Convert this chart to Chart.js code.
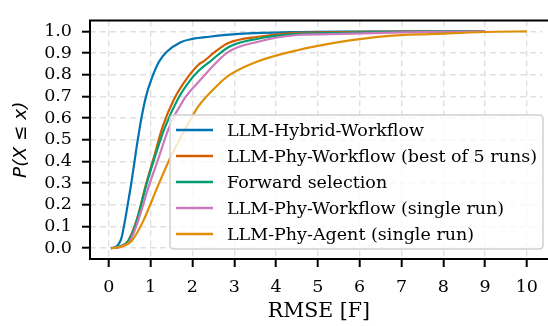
<!DOCTYPE html>
<html>
<head>
<meta charset="utf-8">
<script src="https://cdn.jsdelivr.net/npm/chart.js@4/dist/chart.umd.min.js"></script>
<style>
html,body{margin:0;padding:0;background:#fff;}
#wrap{width:548px;height:326px;position:relative;}
</style>
</head>
<body>
<div id="wrap"><canvas id="c" width="548" height="326"></canvas></div>
<script>
// ---- data ----
const seriesLabels = [
  "LLM-Hybrid-Workflow",
  "LLM-Phy-Workflow (best of 5 runs)",
  "Forward selection",
  "LLM-Phy-Workflow (single run)",
  "LLM-Phy-Agent (single run)"
];
const hybridX = [0.05,0.15,0.22,0.30,0.38,0.46,0.53,0.60,0.66,0.71,0.78,0.89,1.02,1.2,1.38,1.72,2.0,2.4,3.1,4.5,6.0,7.5,9.0];
const hybridP = [0,0.004,0.015,0.045,0.12,0.21,0.29,0.38,0.46,0.52,0.60,0.70,0.78,0.86,0.905,0.95,0.965,0.975,0.988,0.997,0.999,1.0,1.0];
const bestX = [0.05,0.2,0.3,0.46,0.65,0.89,1.08,1.28,1.56,1.84,2.15,2.27,2.54,2.86,3.57,4.51,5.57,7.0,9.0];
const bestP = [0,0.003,0.01,0.034,0.12,0.294,0.42,0.556,0.687,0.775,0.847,0.862,0.905,0.946,0.975,0.993,0.996,0.999,1.0];
const forwardX = [0.05,0.2,0.3,0.47,0.66,0.90,1.1,1.34,1.65,1.95,2.15,2.43,2.86,3.57,4.51,5.57,7.0,9.0];
const forwardP = [0,0.003,0.01,0.034,0.12,0.294,0.42,0.556,0.687,0.775,0.818,0.862,0.927,0.966,0.988,0.993,0.998,1.0];
const singleX = [0.05,0.2,0.32,0.5,0.69,0.97,1.18,1.44,1.80,2.15,2.86,3.57,4.51,5.57,7.0,8.0,9.0];
const singleP = [0,0.003,0.01,0.03,0.12,0.294,0.41,0.556,0.687,0.767,0.905,0.952,0.983,0.988,0.995,0.998,1.0];
const agentX = [0.05,0.2,0.35,0.55,0.81,1.19,1.5,1.85,2.15,2.62,2.9,3.57,4.51,5.5,6.64,7.82,9.0,10.0];
const agentP = [0,0.003,0.01,0.034,0.12,0.294,0.43,0.556,0.656,0.755,0.80,0.862,0.913,0.95,0.978,0.988,0.997,1.0];
const xTicks = [0,1,2,3,4,5,6,7,8,9,10];
const yTicks = [0.0,0.1,0.2,0.3,0.4,0.5,0.6,0.7,0.8,0.9,1.0];
const xTitle = "RMSE [F]";
const yTitle = "P(X ≤ x)";

// ---- styling ----
const colors = ["#0173b2","#d55e00","#029e73","#cc78bc","#de8f05"];
const seriesX = [hybridX, bestX, forwardX, singleX, agentX];
const seriesP = [hybridP, bestP, forwardP, singleP, agentP];
const SERIF = "'DejaVu Serif', serif";
const X_MIN = -0.45, X_FULL_MAX = 10.5;

const datasets = seriesLabels.map((lab, i) => ({
  label: lab,
  data: seriesX[i].map((x, j) => ({x: x, y: seriesP[i][j]})),
  borderColor: colors[i],
  backgroundColor: colors[i],
  borderWidth: 2.2,
  pointRadius: 0,
  fill: false,
  cubicInterpolationMode: 'monotone',
  order: 5 - i
}));

const frame = {
  id: 'frame',
  afterDraw(chart) {
    const {ctx, chartArea} = chart;
    ctx.save();
    ctx.strokeStyle = '#000';
    ctx.lineWidth = 2;
    ctx.setLineDash([]);
    ctx.beginPath();
    ctx.moveTo(chartArea.left, chartArea.top);
    ctx.lineTo(chart.width, chartArea.top);
    ctx.moveTo(chartArea.left, chartArea.top - 1);
    ctx.lineTo(chartArea.left, chartArea.bottom + 1);
    ctx.moveTo(chartArea.left - 1, chartArea.bottom);
    ctx.lineTo(chart.width, chartArea.bottom);
    ctx.stroke();
    // axis titles
    ctx.fillStyle = '#000';
    ctx.textAlign = 'center';
    ctx.textBaseline = 'middle';
    const xs = chart.scales.x;
    ctx.font = "20.5px " + SERIF;
    ctx.fillText(xTitle, xs.getPixelForValue((X_MIN + X_FULL_MAX) / 2), 312);
    ctx.translate(21, (chartArea.top + chartArea.bottom) / 2);
    ctx.rotate(-Math.PI / 2);
    ctx.font = "italic 18.5px 'DejaVu Sans', sans-serif";
    ctx.fillText(yTitle, 0, 0);
    ctx.restore();
  }
};

const boxLegend = {
  id: 'boxLegend',
  afterDatasetsDraw(chart) {
    const ctx = chart.ctx;
    const x0 = 170, y0 = 115, w = 373, h = 134, r = 4;
    ctx.save();
    ctx.setLineDash([]);
    ctx.beginPath();
    ctx.moveTo(x0 + r, y0);
    ctx.lineTo(x0 + w - r, y0);
    ctx.quadraticCurveTo(x0 + w, y0, x0 + w, y0 + r);
    ctx.lineTo(x0 + w, y0 + h - r);
    ctx.quadraticCurveTo(x0 + w, y0 + h, x0 + w - r, y0 + h);
    ctx.lineTo(x0 + r, y0 + h);
    ctx.quadraticCurveTo(x0, y0 + h, x0, y0 + h - r);
    ctx.lineTo(x0, y0 + r);
    ctx.quadraticCurveTo(x0, y0, x0 + r, y0);
    ctx.closePath();
    ctx.fillStyle = 'rgba(255,255,255,0.8)';
    ctx.fill();
    ctx.strokeStyle = '#d0d0d0';
    ctx.lineWidth = 1.5;
    ctx.stroke();
    ctx.font = "17.5px " + SERIF;
    ctx.textBaseline = 'middle';
    ctx.textAlign = 'left';
    const rows = [130, 156, 182, 208, 234];
    seriesLabels.forEach((lab, i) => {
      ctx.strokeStyle = colors[i];
      ctx.lineWidth = 2.6;
      ctx.beginPath();
      ctx.moveTo(176, rows[i]);
      ctx.lineTo(213, rows[i]);
      ctx.stroke();
      ctx.fillStyle = '#000';
      ctx.fillText(lab, 227, rows[i] + 1);
    });
    ctx.restore();
  }
};

const gridOpts = {
  color: '#e0e0e0',
  lineWidth: 1.4,
  tickColor: '#000',
  tickWidth: 2,
  tickLength: 8,
  tickBorderDash: []
};
const borderOpts = {display: false, color: '#000', width: 2, dash: [6, 4]};

new Chart(document.getElementById('c'), {
  type: 'line',
  data: {datasets: datasets},
  options: {
    responsive: false,
    animation: false,
    layout: {padding: {top: 7, right: 0, left: 0, bottom: 0}},
    plugins: {legend: {display: false}, tooltip: {enabled: false}},
    scales: {
      x: {
        type: 'linear',
        min: X_MIN,
        max: 10.37,
        afterBuildTicks: s => { s.ticks = xTicks.map(v => ({value: v})); },
        afterFit: s => { s.height = 67; },
        ticks: {
          color: '#000',
          font: {family: SERIF, size: 17.5},
          padding: 10,
          maxRotation: 0,
          autoSkip: false,
          callback: v => String(v)
        },
        grid: gridOpts,
        border: borderOpts
      },
      y: {
        type: 'linear',
        min: -0.05,
        max: 1.05,
        afterBuildTicks: s => { s.ticks = yTicks.map(v => ({value: v})); },
        afterFit: s => { s.width = 90; },
        ticks: {
          color: '#000',
          font: {family: SERIF, size: 17.5},
          padding: 10,
          autoSkip: false,
          callback: v => Number(v).toFixed(1)
        },
        grid: gridOpts,
        border: borderOpts
      }
    }
  },
  plugins: [frame, boxLegend]
});
</script>
</body>
</html>
